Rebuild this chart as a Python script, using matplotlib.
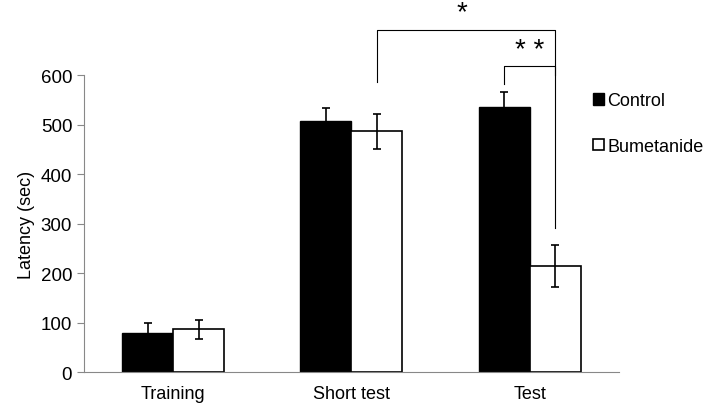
import matplotlib.pyplot as plt
import numpy as np

plt.rcParams['font.family'] = ['Liberation Sans', 'DejaVu Sans']

categories = ['Training', 'Short test', 'Test']
control = [78, 507, 535]
control_err = [22, 26, 30]
bumetanide = [86, 486, 214]
bumetanide_err = [20, 35, 43]

fig = plt.figure(figsize=(7.09, 4.10), dpi=100)
ax = fig.add_axes([0.1185, 0.0902, 0.7545, 0.7244])

x = np.arange(len(categories))
w = 0.286
ekw = dict(ecolor='black', elinewidth=1.2, capsize=3, capthick=1.2)
ax.bar(x - w / 2, control, w, color='black', edgecolor='black', linewidth=1,
       yerr=control_err, error_kw=ekw, label='Control')
ax.bar(x + w / 2, bumetanide, w, color='white', edgecolor='black', linewidth=1.2,
       yerr=bumetanide_err, error_kw=ekw, label='Bumetanide')

ax.set_xlim(-0.5, 2.5)
ax.set_ylim(0, 600)
ax.set_yticks(range(0, 601, 100))
ax.set_xticks(x)
ax.set_xticklabels(categories, fontsize=13)
ax.tick_params(axis='y', labelsize=13.5, length=5, color='#888888', direction='out')
ax.tick_params(axis='x', length=0, pad=9)
ax.set_ylabel('Latency (sec)', fontsize=13)
for s in ['top', 'right']:
    ax.spines[s].set_visible(False)
for s in ['left', 'bottom']:
    ax.spines[s].set_color('#888888')

# significance brackets
lk = dict(color='black', linewidth=0.8, clip_on=False)
ax.plot([1 + w / 2, 1 + w / 2, 2 + w / 2, 2 + w / 2], [586, 690, 690, 291], **lk)
ax.text(1.62, 700, '*', ha='center', va='bottom', fontsize=20, clip_on=False)
ax.plot([2 - w / 2, 2 - w / 2, 2 + w / 2, 2 + w / 2], [582, 618, 618, 600], **lk)
ax.text(2.0, 625, '* *', ha='center', va='bottom', fontsize=20, clip_on=False)

leg = ax.legend(loc='upper left', bbox_to_anchor=(0.951, 0.942), frameon=False,
                fontsize=13, handlelength=0.6, handleheight=0.6, handletextpad=0.2,
                labelspacing=1.6, borderaxespad=0, borderpad=0)

fig.savefig('out.png', dpi=100)
